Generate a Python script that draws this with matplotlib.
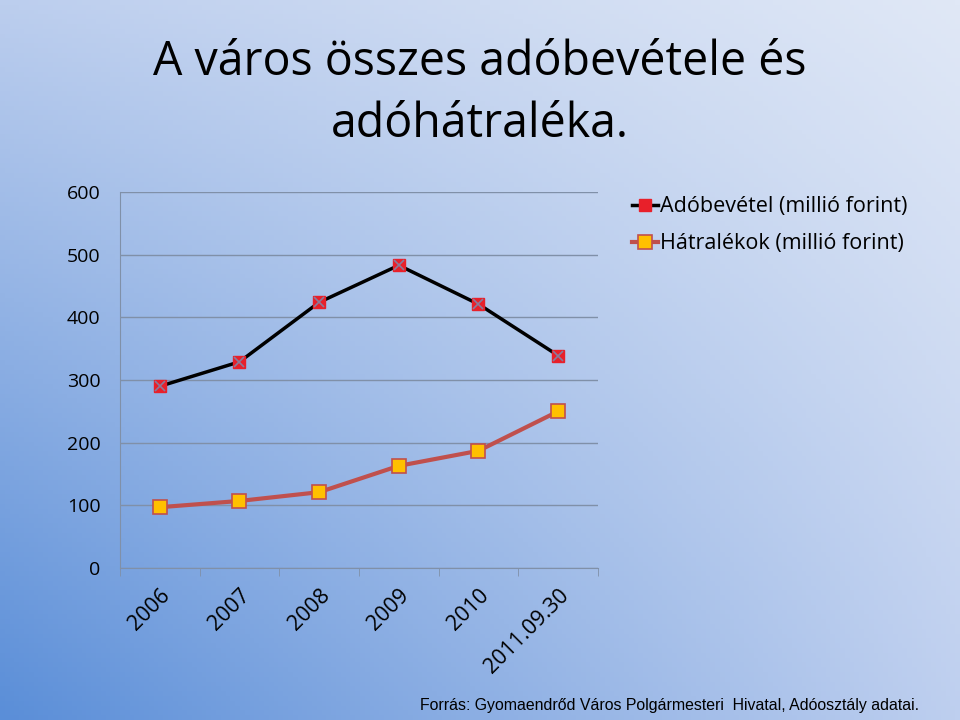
import matplotlib
matplotlib.use("Agg")
import matplotlib.pyplot as plt
import numpy as np

# adatok
evek = ["2006", "2007", "2008", "2009", "2010", "2011.09.30"]
adobevetel = [290, 329, 424, 483, 421, 339]
hatralekok = [97, 107, 121, 163, 187, 250]

fig = plt.figure(figsize=(9.6, 7.2), dpi=100)

# háttér színátmenet (bal alul sötétebb kék, jobb felül világos)
bg = fig.add_axes([0, 0, 1, 1], zorder=-10)
tl = np.array([188, 206, 238]) / 255
tr = np.array([224, 232, 246]) / 255
bl = np.array([90, 142, 216]) / 255
br = np.array([190, 207, 239]) / 255
u = np.linspace(0, 1, 200)[None, :, None]
v = np.linspace(0, 1, 150)[:, None, None]
grad = (1 - v) * ((1 - u) * tl + u * tr) + v * ((1 - u) * bl + u * br)
bg.imshow(grad, aspect="auto", extent=[0, 1, 0, 1])
bg.axis("off")

fig.text(0.5, 0.947, "A város összes adóbevétele és\nadóhátraléka.",
         ha="center", va="top", fontsize=33.5, family="Open Sans",
         linespacing=1.4)

ax = fig.add_axes([120 / 960, 1 - 568 / 720, 478 / 960, 376 / 720])
ax.patch.set_alpha(0)
x = np.arange(len(evek))

ax.plot(x, adobevetel, color="black", lw=2.5, zorder=3,
        label="Adóbevétel (millió forint)",
        marker="s", ms=9, mfc="#e8202a", mec="#e8202a")
ax.plot(x, adobevetel, ls="none", marker="x", ms=7, mew=1.2,
        color="#8a7a9a", zorder=4)
ax.plot(x, hatralekok, color="#c0504d", lw=3, zorder=3,
        label="Hátralékok (millió forint)",
        marker="s", ms=10, mfc="#ffc000", mec="#c0504d", mew=1.2)

ax.set_xlim(-0.5, 5.5)
ax.set_ylim(0, 600)
ax.set_yticks(range(0, 601, 100))
ax.grid(axis="y", color="#8090a8", lw=1)
ax.set_axisbelow(True)
ax.set_xticks(x)
ax.set_xticklabels(evek, rotation=45, ha="right", rotation_mode="anchor",
                   fontsize=15.5, family="Open Sans")
ax.set_xticks(np.arange(-0.5, 6, 1), minor=True)
ax.tick_params(axis="x", which="major", length=0, pad=12)
ax.tick_params(axis="x", which="minor", length=6, color="#8090a8")
ax.tick_params(axis="y", length=0, labelsize=14, pad=14)
for lab in ax.get_yticklabels():
    lab.set_family("Open Sans")
for s in ["top", "right"]:
    ax.spines[s].set_visible(False)
ax.spines["left"].set_color("#8090a8")
ax.spines["bottom"].set_color("#8090a8")

leg = ax.legend(loc="upper left", bbox_to_anchor=(1.03, 1.04), frameon=False,
                prop={"family": "Open Sans", "size": 15.5},
                handlelength=1.2, handletextpad=0.1, labelspacing=0.75)

fig.text(0.957, 0.01,
         "Forrás: Gyomaendrőd Város Polgármesteri  Hivatal, Adóosztály adatai.",
         ha="right", va="bottom", fontsize=11.4, family="Liberation Sans")

fig.savefig("out.png", dpi=100)
